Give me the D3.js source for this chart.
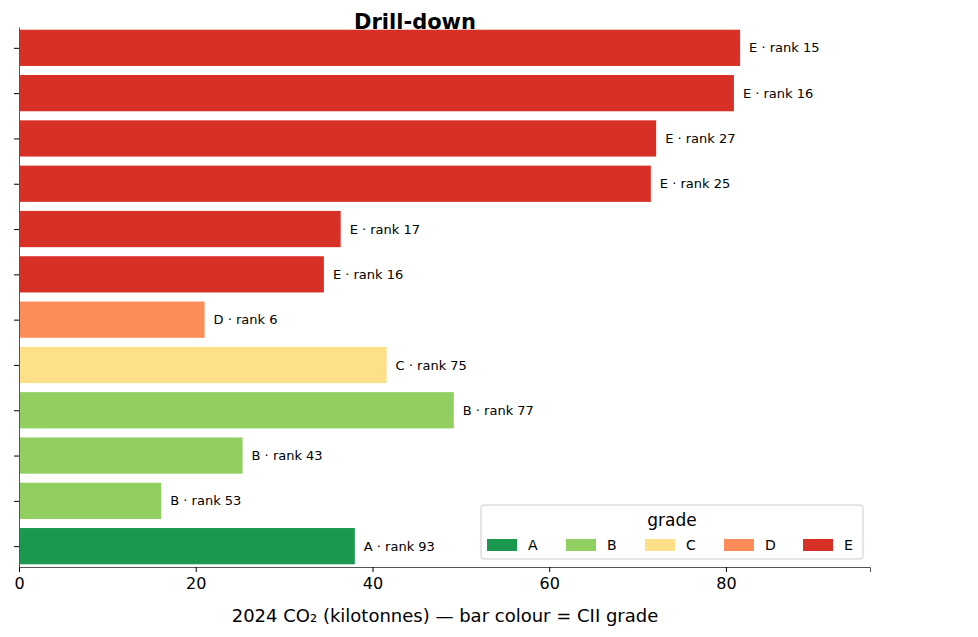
<!DOCTYPE html>
<html><head><meta charset="utf-8">
<script src="https://cdn.jsdelivr.net/npm/d3@7"></script>
<style>body{margin:0;background:#fff}text{font-family:"DejaVu Sans",sans-serif}</style>
</head><body><div id="app"></div>
<script>
// data, top to bottom
const grades = ['E', 'E', 'E', 'E', 'E', 'E', 'D', 'C', 'B', 'B', 'B', 'A']
const ranks = [15, 16, 27, 25, 17, 16, 6, 75, 77, 43, 53, 93]
const values = [81.6, 80.9, 72.1, 71.5, 36.4, 34.5, 21.0, 41.6, 49.2, 25.3, 16.1, 38.0]
const gradeList = ['A', 'B', 'C', 'D', 'E']
const gradeColors = ['#1a9850', '#91cf60', '#fee08b', '#fc8d59', '#d73027']
const xTicks = [0, 20, 40, 60, 80]

const W = 978, H = 637
const margin = { top: 27, right: 108, bottom: 70, left: 19 }
const w = W - margin.left - margin.right
const h = H - margin.top - margin.bottom

const svg = d3.select('#app').append('svg').attr('width', W).attr('height', H)
const g = svg.append('g').attr('transform', `translate(${margin.left},${margin.top})`)

const x = d3.scaleLinear().domain([0, 96.3]).range([0, w])
const idx = d3.range(values.length)
const step = h / (values.length - 1 + 0.46 * 2 + 0)
const y = d3.scaleLinear().domain([-0.46, values.length - 0.54]).range([0, h])
const color = d3.scaleOrdinal().domain(gradeList).range(gradeColors)
const bh = 0.8 * (y(1) - y(0))

// bars
g.selectAll('rect.bar').data(idx).enter().append('rect')
	.attr('x', 0).attr('y', (i) => y(i) - bh / 2)
	.attr('width', (i) => x(values[i])).attr('height', bh)
	.attr('fill', (i) => color(grades[i]))

// bar labels
g.selectAll('text.lbl').data(idx).enter().append('text')
	.attr('x', (i) => x(values[i]) + 9).attr('y', (i) => y(i))
	.attr('dy', '0.35em').attr('font-size', 13)
	.text((i) => `${grades[i]} · rank ${ranks[i]}`)

// axes
const xAxis = d3.axisBottom(x).tickValues(xTicks).tickSize(5).tickPadding(6)
const xg = g.append('g').attr('transform', `translate(0,${h})`).call(xAxis)
xg.selectAll('text').attr('font-size', 16).style('font-family', 'DejaVu Sans')
xg.select('.domain').attr('stroke', '#555')
const yAxis = d3.axisLeft(y).tickValues(idx).tickFormat('').tickSize(5).tickSizeOuter(0)
g.append('g').call(yAxis).select('.domain').attr('stroke', '#555')

// title and x label
svg.append('text').attr('x', 415).attr('y', 29).attr('text-anchor', 'middle')
	.attr('font-size', 21).attr('font-weight', 'bold').text('Drill-down')
svg.append('text').attr('x', 445).attr('y', 622).attr('text-anchor', 'middle')
	.attr('font-size', 18).text('2024 CO₂ (kilotonnes) — bar colour = CII grade')

// legend
const lg = svg.append('g').attr('transform', 'translate(481,505)')
lg.append('rect').attr('width', 382).attr('height', 54).attr('rx', 3)
	.attr('fill', '#fff').attr('stroke', '#ccc')
lg.append('text').attr('x', 191).attr('y', 21).attr('text-anchor', 'middle')
	.attr('font-size', 17).text('grade')
const items = lg.selectAll('g.item').data(gradeList).enter().append('g')
	.attr('transform', (d, i) => `translate(${6 + i * 79},34)`)
items.append('rect').attr('width', 30).attr('height', 12).attr('fill', (d) => color(d))
items.append('text').attr('x', 41).attr('y', 6).attr('dy', '0.35em')
	.attr('font-size', 14).text((d) => d)
</script></body></html>
